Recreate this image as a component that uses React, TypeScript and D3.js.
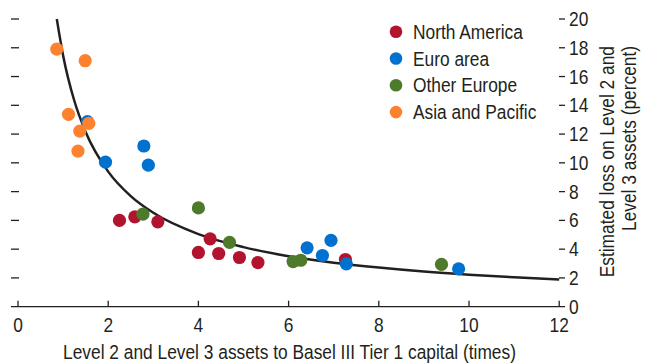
import React from "react";
import * as d3 from "d3";

const W = 650;
const H = 364;

const xTicks = [0, 2, 4, 6, 8, 10, 12];
const yTicks = [0, 2, 4, 6, 8, 10, 12, 14, 16, 18, 20];

const seriesNames = ["North America", "Euro area", "Other Europe", "Asia and Pacific"];
const seriesColors = ["#B2142F", "#0071CE", "#4D7A2B", "#FC8230"];

const northAmericaX = [2.25, 2.59, 3.10, 4.00, 4.26, 4.45, 4.91, 5.32, 7.26];
const northAmericaY = [6.0, 6.25, 5.9, 3.77, 4.72, 3.70, 3.42, 3.07, 3.28];

const otherEuropeX = [2.77, 4.00, 4.69, 6.10, 6.27, 9.39];
const otherEuropeY = [6.43, 6.87, 4.47, 3.14, 3.23, 2.94];

const euroAreaX = [1.54, 1.94, 2.79, 2.89, 6.41, 6.75, 6.94, 7.28, 9.77];
const euroAreaY = [12.86, 10.05, 11.17, 9.84, 4.09, 3.56, 4.61, 2.98, 2.63];

const asiaPacificX = [0.86, 1.49, 1.12, 1.37, 1.57, 1.33];
const asiaPacificY = [17.91, 17.1, 13.37, 12.21, 12.74, 10.82];

const curveX = [0.86, 1.0, 1.25, 1.5, 2, 2.5, 3, 4, 5, 6, 7, 8, 9, 10, 11, 12];
const curveY = [20.0, 17.47, 14.3, 12.15, 9.39, 7.69, 6.53, 5.05, 4.14, 3.51, 3.06, 2.72, 2.44, 2.22, 2.04, 1.89];

const FONT = "'Liberation Sans', Arial, sans-serif";
const TEXT = "#231F20";
const FS = 19.5;
const SX = 0.89;

function T(props: { x: number; y: number; anchor?: string; dy?: string; children: React.ReactNode }) {
  const { x, y, anchor = "start", dy, children } = props;
  return (
    <text
      transform={`translate(${x},${y}) scale(${SX},1)`}
      textAnchor={anchor}
      dy={dy}
      fontSize={FS}
      fill={TEXT}
    >
      {children}
    </text>
  );
}

export default function App() {
  const x = d3.scaleLinear().domain([0, 12]).range([18, 559.2]);
  const y = d3.scaleLinear().domain([0, 20]).range([306.7, 19]);

  const line = d3
    .line<number>()
    .x((_, i) => x(curveX[i]))
    .y((d) => y(d))
    .curve(d3.curveMonotoneX);

  const groups = [
    { xs: northAmericaX, ys: northAmericaY, color: seriesColors[0] },
    { xs: otherEuropeX, ys: otherEuropeY, color: seriesColors[2] },
    { xs: euroAreaX, ys: euroAreaY, color: seriesColors[1] },
    { xs: asiaPacificX, ys: asiaPacificY, color: seriesColors[3] },
  ];

  return (
    <svg
      width={W}
      height={H}
      style={{ position: "fixed", left: 0, top: 0, background: "#fff" }}
      fontFamily={FONT}
    >
      {/* left ticks (no labels) */}
      {yTicks.filter((t) => t > 0).map((t) => (
        <line key={"l" + t} x1={11} x2={19} y1={y(t)} y2={y(t)} stroke={TEXT} strokeWidth={1.3} />
      ))}
      {/* x axis line */}
      <line x1={11} x2={565} y1={y(0)} y2={y(0)} stroke={TEXT} strokeWidth={1.3} />
      {xTicks.map((t) => (
        <g key={"x" + t}>
          <line x1={x(t)} x2={x(t)} y1={y(0)} y2={y(0) - 6} stroke={TEXT} strokeWidth={1.3} />
          <T x={x(t)} y={332} anchor="middle">
            {t}
          </T>
        </g>
      ))}
      {/* right ticks and labels */}
      {yTicks.map((t) => (
        <g key={"r" + t}>
          {t > 0 && (
            <line x1={559} x2={565} y1={y(t)} y2={y(t)} stroke={TEXT} strokeWidth={1.3} />
          )}
          <T x={569} y={y(t)} dy="0.36em">
            {t}
          </T>
        </g>
      ))}
      {/* fitted curve */}
      <path d={line(curveY) || ""} fill="none" stroke={TEXT} strokeWidth={2.5} />
      {/* points */}
      {groups.map((g, gi) =>
        g.xs.map((xv, i) => (
          <circle key={gi + "-" + i} cx={x(xv)} cy={y(g.ys[i])} r={6.6} fill={g.color} />
        ))
      )}
      {/* legend */}
      {seriesNames.map((name, i) => (
        <g key={name} transform={`translate(396, ${31.7 + i * 26.8})`}>
          <circle cx={0} cy={0} r={6.3} fill={seriesColors[i]} />
          <T x={17} y={0} dy="0.36em">
            {name}
          </T>
        </g>
      ))}
      {/* axis titles */}
      <T x={289.5} y={359} anchor="middle">
        Level 2 and Level 3 assets to Basel III Tier 1 capital (times)
      </T>
      <g transform="translate(614, 46) rotate(-90)">
        <T x={0} y={0} anchor="end">
          Estimated loss on Level 2 and
        </T>
        <T x={0} y={22} anchor="end">
          Level 3 assets (percent)
        </T>
      </g>
    </svg>
  );
}
